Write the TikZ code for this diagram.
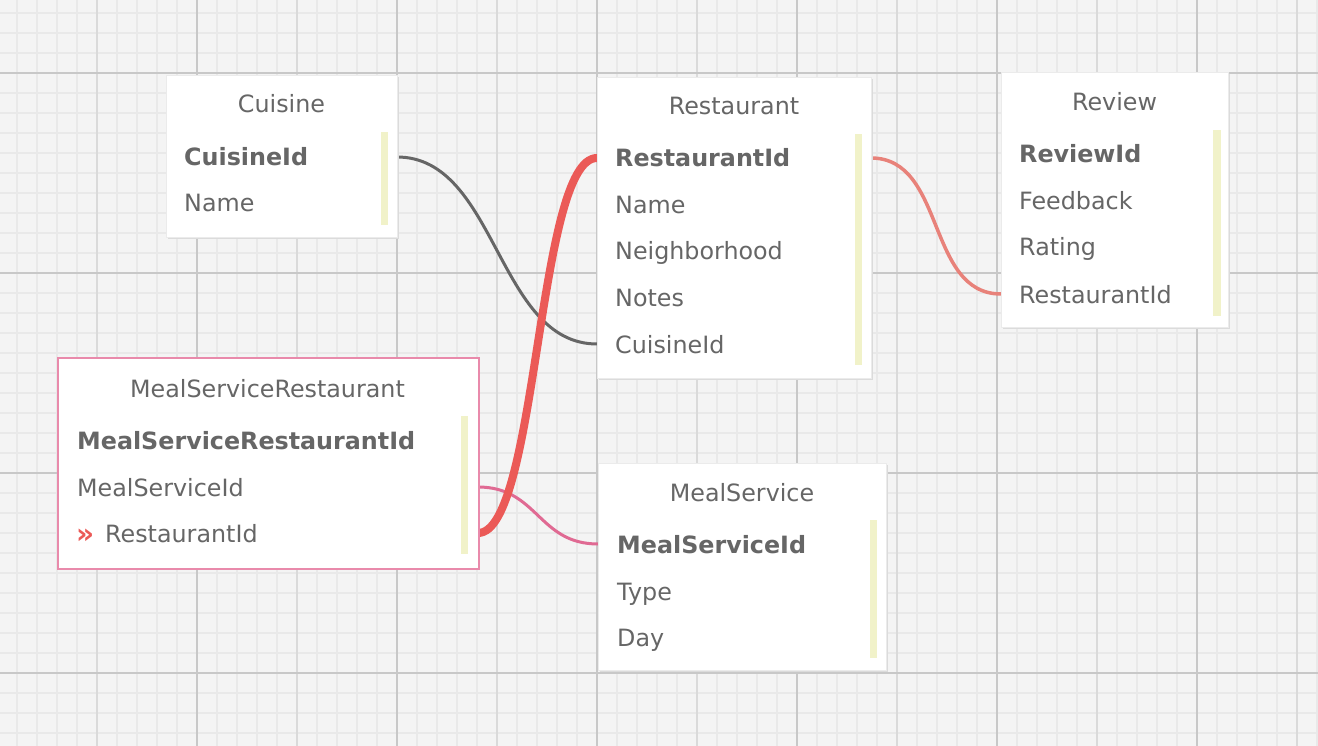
\documentclass[tikz,border=0pt]{standalone}
\usepackage{fontspec}
\setmainfont{DejaVu Sans}
\definecolor{bg}{HTML}{F4F4F4}
\definecolor{gminor}{HTML}{E9E9E9}
\definecolor{gmed}{HTML}{DADADA}
\definecolor{gmajor}{HTML}{C8C8C8}
\definecolor{txt}{HTML}{666666}
\definecolor{bar}{HTML}{F1F2C9}
\definecolor{cgray}{HTML}{666666}
\definecolor{cred}{HTML}{EB5A57}
\definecolor{csalmon}{HTML}{E8827A}
\definecolor{cpink}{HTML}{E06A93}
\definecolor{pinkborder}{HTML}{E98AAB}
\tikzset{
  minor/.style={gminor, line width=1.5pt},
  medium/.style={gmed, line width=1.8pt},
  major/.style={gmajor, line width=2pt},
  box/.style={draw=black!8, fill=white, line width=0.8pt, anchor=north west, inner sep=0pt},
  shadowbox/.style={fill=black!14, anchor=north west, inner sep=0pt},
  ttl/.style={anchor=base, text=txt, font=\fontsize{23.8}{28}\selectfont, inner sep=0pt},
  row/.style={anchor=base west, text=txt, font=\fontsize{23.8}{28}\selectfont, inner sep=0pt},
  pk/.style={row, font=\fontsize{23.8}{28}\selectfont\bfseries},
  barfill/.style={fill=bar, draw=none},
  conn/.style={line cap=round},
}
\begin{document}
\begin{tikzpicture}[x=1pt,y=-1pt]
\useasboundingbox (0,0) rectangle (1318,746);
\fill[bg] (0,0) rectangle (1318,746);
\foreach \i in {0,...,65} \draw[minor] ({17+20*\i},0) -- ({17+20*\i},746);
\foreach \i in {0,...,36} \draw[minor] (0,{13+20*\i}) -- (1318,{13+20*\i});
\foreach \i in {0,...,12} \draw[medium] ({97+100*\i},0) -- ({97+100*\i},746);
\foreach \i in {0,...,5} \draw[major] ({197+200*\i},0) -- ({197+200*\i},746);
\foreach \i in {0,...,3} \draw[major] (0,{73+200*\i}) -- (1318,{73+200*\i});

% connector end points
\coordinate (c-cid) at (397,157);
\coordinate (r-cid) at (597,344);
\coordinate (r-rid-l) at (597,158);
\coordinate (r-rid-r) at (871,158);
\coordinate (rv-rid) at (1001,294);
\coordinate (msr-rid) at (478,533);
\coordinate (msr-msid) at (478,487);
\coordinate (ms-msid) at (598,544);

% connectors
\draw[conn, cgray, line width=3pt] (c-cid) .. controls +(100,0) and +(-100,0) .. (r-cid);
\draw[conn, csalmon, line width=3.5pt] (r-rid-r) .. controls +(75,0) and +(-75,0) .. (rv-rid);
\draw[conn, cpink, line width=3pt] (msr-msid) .. controls +(60,0) and +(-60,0) .. (ms-msid);
\draw[conn, cred, line width=8pt] (msr-rid) .. controls +(60,0) and +(-60,0) .. (r-rid-l);

% Cuisine
\node[shadowbox, minimum width=231pt, minimum height=162pt] (cuisine-s) at (167.5,76.5) {};
\node[box, minimum width=231pt, minimum height=162pt] (cuisine) at (166,75) {};
\fill[barfill] (381,132) rectangle (388,225);
\node[ttl] (cuisine-t) at (281.5,113) {Cuisine};
\node[pk] (cuisine-1) at (184,166) {CuisineId};
\node[row] (cuisine-2) at (184,212) {Name};

% Restaurant
\node[shadowbox, minimum width=274pt, minimum height=301pt] (rest-s) at (598.5,78.5) {};
\node[box, minimum width=274pt, minimum height=301pt] (rest) at (597,77) {};
\fill[barfill] (855,134) rectangle (862,365);
\node[ttl] (rest-t) at (734,115) {Restaurant};
\node[pk] (rest-1) at (615,167) {RestaurantId};
\node[row] (rest-2) at (615,214) {Name};
\node[row] (rest-3) at (615,260) {Neighborhood};
\node[row] (rest-4) at (615,306) {Notes};
\node[row] (rest-5) at (615,353) {CuisineId};

% Review
\node[shadowbox, minimum width=227pt, minimum height=255pt] (rev-s) at (1002.5,73.5) {};
\node[box, minimum width=227pt, minimum height=255pt] (rev) at (1001,72) {};
\fill[barfill] (1213,130) rectangle (1221,316);
\node[ttl] (rev-t) at (1114.5,111) {Review};
\node[pk] (rev-1) at (1019,163) {ReviewId};
\node[row] (rev-2) at (1019,210) {Feedback};
\node[row] (rev-3) at (1019,256) {Rating};
\node[row] (rev-4) at (1019,303) {RestaurantId};

% MealServiceRestaurant
\node[box, draw=pinkborder, line width=2pt, minimum width=421pt, minimum height=211pt] (msr) at (57,357) {};
\fill[barfill] (461,416) rectangle (468,554);
\node[ttl] (msr-t) at (267.5,397) {MealServiceRestaurant};
\node[pk] (msr-1) at (77,449) {MealServiceRestaurantId};
\node[row] (msr-2) at (77,496) {MealServiceId};
\node[row, text=cred, font=\fontsize{28}{32}\selectfont\bfseries] (msr-fk) at (76,543) {»};
\node[row] (msr-3) at (105,542) {RestaurantId};

% MealService
\node[shadowbox, minimum width=288pt, minimum height=207pt] (ms-s) at (599.5,464.5) {};
\node[box, minimum width=288pt, minimum height=207pt] (ms) at (598,463) {};
\fill[barfill] (870,520) rectangle (877,658);
\node[ttl] (ms-t) at (742,501) {MealService};
\node[pk] (ms-1) at (617,553) {MealServiceId};
\node[row] (ms-2) at (617,600) {Type};
\node[row] (ms-3) at (617,646) {Day};
\end{tikzpicture}
\end{document}
